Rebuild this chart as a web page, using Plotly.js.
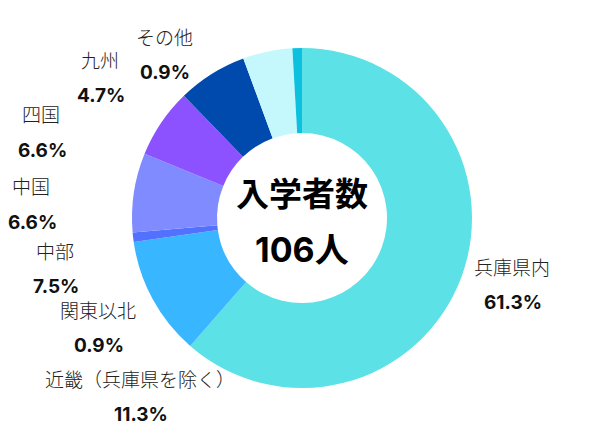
<!DOCTYPE html>
<html>
<head>
<meta charset="utf-8">
<script src="https://cdn.plot.ly/plotly-3.0.1.min.js"></script>
<style>html,body{margin:0;padding:0;background:#fff;}#chart{width:603px;height:438px;}</style>
</head>
<body>
<div id="chart"></div>
<script>
// Data
const regions = ["兵庫県内", "近畿（兵庫県を除く）", "関東以北", "中部", "中国", "四国", "九州", "その他"];
const shares = [61.3, 11.3, 0.9, 7.5, 6.6, 6.6, 4.7, 0.9];
const sliceColors = ["#5ce1e6", "#38b6ff", "#5271ff", "#7f8bff", "#8c52ff", "#004aad", "#c4f8fd", "#0cc0df"];
const centerTitle = "入学者数";
const centerValue = "106人";

// Label placement (pixel centres of the name line; percent line sits below)
const labelX = [512, 140, 98, 55, 31, 41, 100, 164];
const labelY = [266, 378, 309, 250, 186, 114, 59, 36];
const W = 603, H = 438;
const pctGap = 36;

const fam = "Inter, 'Noto Sans CJK JP', sans-serif";
const annotations = [];
regions.forEach((r, i) => {
  annotations.push({
    text: r, xref: "paper", yref: "paper",
    x: labelX[i] / W, y: 1 - labelY[i] / H,
    xanchor: "center", yanchor: "middle", showarrow: false,
    font: {family: "'Noto Sans CJK JP', sans-serif", size: 19, color: "#222", weight: 300}
  });
  annotations.push({
    text: shares[i].toFixed(1) + "%", xref: "paper", yref: "paper",
    x: (labelX[i] + 1) / W, y: 1 - (labelY[i] + pctGap) / H,
    xanchor: "center", yanchor: "middle", showarrow: false,
    font: {family: fam, size: 19, color: "#111", weight: 700}
  });
});
annotations.push({
  text: centerTitle, xref: "paper", yref: "paper", x: 302 / W, y: 1 - 192 / H,
  xanchor: "center", yanchor: "middle", showarrow: false,
  font: {family: "'Noto Sans CJK JP', sans-serif", size: 33, color: "#000", weight: 700}
});
annotations.push({
  text: centerValue, xref: "paper", yref: "paper", x: 302 / W, y: 1 - 249 / H,
  xanchor: "center", yanchor: "middle", showarrow: false,
  font: {family: fam, size: 34, color: "#000", weight: 700}
});

Plotly.newPlot("chart", [{
  type: "pie",
  labels: regions,
  values: shares,
  hole: 0.5,
  sort: false,
  direction: "clockwise",
  rotation: 0,
  marker: {colors: sliceColors, line: {width: 0}},
  textinfo: "none",
  hoverinfo: "label+percent",
  domain: {x: [132 / W, 472 / W], y: [1 - 388 / H, 1 - 48 / H]}
}], {
  width: W, height: H,
  margin: {l: 0, r: 0, t: 0, b: 0},
  showlegend: false,
  paper_bgcolor: "#fff",
  annotations: annotations
}, {displayModeBar: false, staticPlot: true});
</script>
</body>
</html>
